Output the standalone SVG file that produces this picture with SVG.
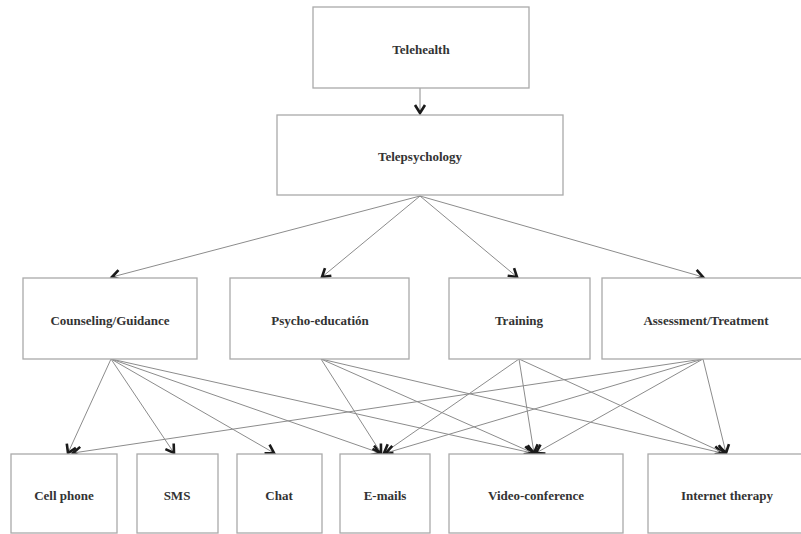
<svg xmlns="http://www.w3.org/2000/svg" width="801" height="534" viewBox="0 0 801 534">
<defs>
<marker id="arr" markerWidth="10" markerHeight="12" refX="8" refY="5" orient="auto" markerUnits="userSpaceOnUse" overflow="visible">
<path d="M0,0 L8,5 L0,10" fill="none" stroke="#1a1a1a" stroke-width="2.6" stroke-linejoin="miter"/>
</marker>
<style>
.box{fill:#fff;stroke:#aaa;stroke-width:1.3}
.lbl{font-family:"Liberation Serif","Times New Roman",serif;font-weight:bold;font-size:13px;fill:#333;text-anchor:middle}
.edge{stroke:#8c8c8c;stroke-width:1;fill:none;marker-end:url(#arr)}
</style>
</defs>
<rect width="801" height="534" fill="#fff"/>
<g id="connectors">
<line class="edge" x1="420" y1="88" x2="420" y2="113"/>
<line class="edge" x1="420" y1="196" x2="112" y2="277"/>
<line class="edge" x1="420" y1="196" x2="322" y2="277"/>
<line class="edge" x1="420" y1="196" x2="517" y2="277"/>
<line class="edge" x1="420" y1="196" x2="703" y2="277"/>
<line class="edge" x1="111" y1="359" x2="68" y2="453"/>
<line class="edge" x1="111" y1="359" x2="174" y2="453"/>
<line class="edge" x1="111" y1="359" x2="274" y2="453"/>
<line class="edge" x1="111" y1="359" x2="380" y2="453"/>
<line class="edge" x1="111" y1="359" x2="532" y2="453"/>
<line class="edge" x1="321" y1="359" x2="381" y2="453"/>
<line class="edge" x1="321" y1="359" x2="533" y2="453"/>
<line class="edge" x1="321" y1="359" x2="722" y2="453"/>
<line class="edge" x1="519" y1="359" x2="384" y2="453"/>
<line class="edge" x1="519" y1="359" x2="534" y2="453"/>
<line class="edge" x1="519" y1="359" x2="724" y2="453"/>
<line class="edge" x1="703" y1="359" x2="73" y2="453"/>
<line class="edge" x1="703" y1="359" x2="386" y2="453"/>
<line class="edge" x1="703" y1="359" x2="536" y2="453"/>
<line class="edge" x1="703" y1="359" x2="726" y2="453"/>
</g>
<g id="telehealth"><rect class="box" x="313" y="7" width="216" height="81"/><text class="lbl" x="421" y="54">Telehealth</text></g>
<g id="telepsychology"><rect class="box" x="277" y="115" width="286" height="80"/><text class="lbl" x="420" y="161">Telepsychology</text></g>
<g id="counseling"><rect class="box" x="23" y="278" width="174" height="81"/><text class="lbl" x="110" y="325">Counseling/Guidance</text></g>
<g id="psychoeducation"><rect class="box" x="230" y="278" width="179" height="81"/><text class="lbl" x="320" y="325">Psycho-educatión</text></g>
<g id="training"><rect class="box" x="449" y="278" width="141" height="81"/><text class="lbl" x="519" y="325">Training</text></g>
<g id="assessment"><rect class="box" x="602" y="278" width="210" height="81"/><text class="lbl" x="706" y="325">Assessment/Treatment</text></g>
<g id="cellphone"><rect class="box" x="11" y="454" width="106" height="79"/><text class="lbl" x="64" y="500">Cell phone</text></g>
<g id="sms"><rect class="box" x="137" y="454" width="81" height="79"/><text class="lbl" x="177" y="500">SMS</text></g>
<g id="chat"><rect class="box" x="237" y="454" width="85" height="79"/><text class="lbl" x="279" y="500">Chat</text></g>
<g id="emails"><rect class="box" x="340" y="454" width="90" height="79"/><text class="lbl" x="385" y="500">E-mails</text></g>
<g id="videoconference"><rect class="box" x="449" y="454" width="174" height="79"/><text class="lbl" x="536" y="500">Video-conference</text></g>
<g id="internettherapy"><rect class="box" x="648" y="454" width="160" height="79"/><text class="lbl" x="727" y="500">Internet therapy</text></g>
</svg>
